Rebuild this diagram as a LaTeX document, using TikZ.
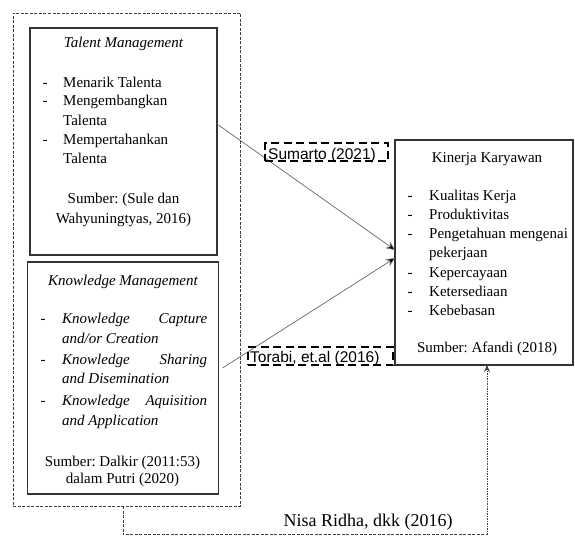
\documentclass[tikz,border=0pt]{standalone}
\usepackage{fontspec}
\setmainfont{Liberation Serif}
\newfontfamily\labelfont{Liberation Sans}
\usetikzlibrary{arrows.meta}
\frenchspacing
\tikzset{
  box/.style={draw=black!80, line width=1.1pt, inner sep=0pt, outer sep=0pt},
  outerbox/.style={draw=black!75, line width=0.9pt, dash pattern=on 3pt off 1.5pt, inner sep=0pt, outer sep=0pt},
  txt/.style={anchor=base west, inner sep=0pt, font=\fontsize{15}{19}\selectfont, text=black},
  ctxt/.style={anchor=base, inner sep=0pt, font=\fontsize{15}{19}\selectfont, text=black},
  dashmark/.style={anchor=base, inner sep=0pt, font=\fontsize{15}{19}\selectfont, text=black},
  lblbox/.style={draw=black, line width=1.8pt, dash pattern=on 8pt off 4.5pt, inner sep=0pt, outer sep=0pt},
  lbltxt/.style={anchor=base west, inner sep=0pt, font=\labelfont\fontsize{15.5}{18}\selectfont, text=black},
  arr/.style={draw=black!60, line width=0.7pt, -{Stealth[length=9pt,width=8pt,fill=black]}},
  conndash/.style={draw=black!75, line width=0.9pt, dash pattern=on 3pt off 1.5pt},
  conndot/.style={draw=black!75, line width=0.9pt, dash pattern=on 1.5pt off 1pt},
}
\begin{document}
\begin{tikzpicture}[x=1pt, y=-1pt]
\useasboundingbox (0,0) rectangle (575,535);

% outer dashed group
\node[outerbox, minimum width=227pt, minimum height=493pt] (outer) at (126.5,259.5) {};

% Talent Management box
\node[box, minimum width=187pt, minimum height=227pt] (talent) at (123.5,141.5) {};
\node[ctxt] (tTitle) at (123.5,48) {\itshape Talent Management};
\node[dashmark] (td1) at (45,87) {-};
\node[txt] (t1) at (63,87) {Menarik Talenta};
\node[dashmark] (td2) at (45,105.5) {-};
\node[txt] (t2) at (63,105.5) {Mengembangkan};
\node[txt] (t2b) at (63,125) {Talenta};
\node[dashmark] (td3) at (45,144) {-};
\node[txt] (t3) at (63,144) {Mempertahankan};
\node[txt] (t3b) at (63,163.5) {Talenta};
\node[ctxt] (ts1) at (123.5,203.5) {Sumber: (Sule dan};
\node[ctxt] (ts2) at (123.5,223) {Wahyuningtyas, 2016)};

% Knowledge Management box
\node[box, minimum width=191pt, minimum height=232pt] (know) at (123,378) {};
\node[ctxt] (kTitle) at (123,285) {\itshape Knowledge Management};
\node[dashmark] (kd1) at (43,323) {-};
\node[txt] (k1) at (62,323) {\hbox to 145pt{\itshape Knowledge\hfill Capture}};
\node[txt] (k1b) at (62,343) {\itshape and/or Creation};
\node[dashmark] (kd2) at (43,364.5) {-};
\node[txt] (k2) at (62,364.5) {\hbox to 145pt{\itshape Knowledge\hfill Sharing}};
\node[txt] (k2b) at (62,383.5) {\itshape and Disemination};
\node[dashmark] (kd3) at (43,405) {-};
\node[txt] (k3) at (62,405) {\hbox to 145pt{\itshape Knowledge\hfill Aquisition}};
\node[txt] (k3b) at (62,425) {\itshape and Application};
\node[ctxt] (ks1) at (122.5,466.5) {Sumber: Dalkir (2011:53)};
\node[ctxt] (ks2) at (122.5,483.5) {dalam Putri (2020)};

% Kinerja Karyawan box
\node[box, minimum width=178pt, minimum height=225pt] (kin) at (484,252.5) {};
\node[ctxt] (kiTitle) at (487,162) {Kinerja Karyawan};
\node[dashmark] (kid1) at (410,200) {-};
\node[txt] (ki1) at (429,200) {Kualitas Kerja};
\node[dashmark] (kid2) at (410,219) {-};
\node[txt] (ki2) at (429,219) {Produktivitas};
\node[dashmark] (kid3) at (410,238) {-};
\node[txt] (ki3) at (429,238) {Pengetahuan mengenai};
\node[txt] (ki3b) at (429,257) {pekerjaan};
\node[dashmark] (kid4) at (410,277) {-};
\node[txt] (ki4) at (429,277) {Kepercayaan};
\node[dashmark] (kid5) at (410,296) {-};
\node[txt] (ki5) at (429,296) {Ketersediaan};
\node[dashmark] (kid6) at (410,315) {-};
\node[txt] (ki6) at (429,315) {Kebebasan};
\node[ctxt] (kis) at (487,352) {Sumber: Afandi (2018)};

% arrows
\draw[arr] ([yshift=17.5pt]talent.east) -- ([yshift=2.5pt]kin.west);
\draw[arr] ([xshift=4pt,yshift=10pt]know.east) -- ([yshift=-5.5pt]kin.west);

% labels
\node[lblbox, minimum width=123pt, minimum height=18pt] (sumbox) at (326.5,152) {};
\node[lbltxt] (sumtxt) at (268,159) {Sumarto (2021)};
\node[lblbox, minimum width=145pt, minimum height=18pt] (torbox) at (320.5,356) {};
\node[lbltxt] (tortxt) at (250,362) {Torabi, et.al (2016)};

% bottom connector (its horizontal run lies at the lower edge)
\coordinate (c1) at (123,534.8);
\coordinate (c2) at (487,534.8);
\draw[conndash] ([xshift=-3.5pt]outer.south) -- (c1) -- (c2);
\draw[conndot, -{Stealth[length=7pt,width=6pt]}] (c2) -- ([xshift=3pt]kin.south);
\node[anchor=base, inner sep=0pt, font=\fontsize{18}{22}\selectfont, text=black] (nisa) at (368,526) {Nisa Ridha, dkk (2016)};
\end{tikzpicture}
\end{document}
